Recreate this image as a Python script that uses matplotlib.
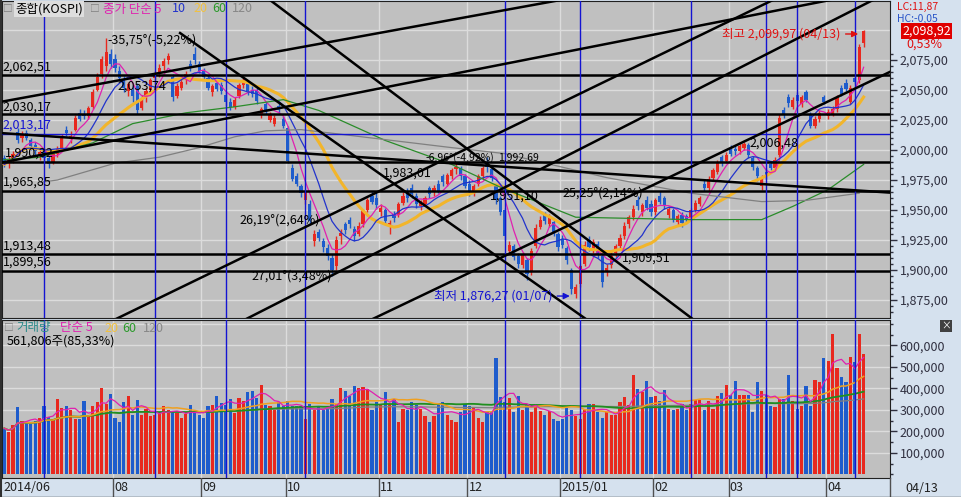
#!/usr/bin/env python3
import numpy as np
import pandas as pd
import matplotlib
matplotlib.use('Agg')
import matplotlib.pyplot as plt
import matplotlib.ticker as tkr
from matplotlib.lines import Line2D

plt.rcParams['font.family'] = ['Noto Sans CJK KR', 'DejaVu Sans']

# KOSPI daily, 2014-06-27 .. 2015-04-13 (195 sessions)
opens = [1993, 1988, 1991, 2015, 2010, 2014, 2008, 2004, 1995, 1998,
         1993, 1989, 1997, 2002, 2017, 2009, 2017, 2031, 2030, 2028,
         2036, 2050, 2063, 2070, 2080, 2076, 2066, 2058, 2049, 2050,
         2053, 2035, 2044, 2050, 2060, 2065, 2070, 2075, 2061, 2045,
         2052, 2060, 2072, 2080, 2072, 2066, 2060, 2048, 2056, 2054,
         2046, 2040, 2036, 2045, 2054, 2055, 2050, 2050, 2029, 2038,
         2025, 2022, 2037, 2026, 2018, 1985, 1978, 1970, 1958, 1955,
         1924, 1932, 1924, 1918, 1910, 1903, 1928, 1938, 1942, 1934,
         1930, 1938, 1950, 1962, 1960, 1948, 1950, 1936, 1947, 1946,
         1956, 1966, 1968, 1962, 1953, 1955, 1968, 1966, 1972, 1978,
         1972, 1978, 1984, 1985, 1978, 1972, 1964, 1972, 1978, 1990,
         1984, 1970, 1960, 1950, 1916, 1920, 1912, 1904, 1908, 1898,
         1920, 1936, 1946, 1938, 1940, 1930, 1926, 1918, 1900, 1880,
         1888, 1905, 1925, 1916, 1922, 1912, 1898, 1904, 1914, 1920,
         1928, 1938, 1944, 1958, 1948, 1958, 1955, 1948, 1962, 1960,
         1946, 1950, 1940, 1946, 1945, 1944, 1950, 1955, 1972, 1968,
         1977, 1982, 1994, 1991, 2002, 2001, 1999, 2002, 2004, 1993,
         1985, 1970, 1982, 1988, 1985, 1996, 2033, 2044, 2036, 2046,
         2038, 2048, 2030, 2020, 2026, 2044, 2028, 2030, 2034, 2052,
         2056, 2040, 2060, 2058, 2089]
highs = [1996, 1995, 1999, 2018, 2016, 2017, 2010, 2007, 2000, 2001,
         1995, 1999, 2003, 2013, 2020, 2016, 2029, 2034, 2033, 2037,
         2051, 2064, 2078, 2093, 2084, 2080, 2070, 2062, 2057, 2054,
         2056, 2046, 2052, 2060, 2066, 2072, 2077, 2081, 2063, 2056,
         2060, 2066, 2075, 2086, 2074, 2068, 2062, 2055, 2058, 2057,
         2048, 2043, 2044, 2056, 2060, 2057, 2053, 2052, 2036, 2040,
         2032, 2029, 2039, 2028, 2020, 1988, 1981, 1972, 1967, 1958,
         1933, 1934, 1927, 1922, 1913, 1928, 1934, 1940, 1944, 1937,
         1940, 1951, 1960, 1966, 1965, 1955, 1952, 1942, 1949, 1957,
         1965, 1968, 1972, 1964, 1958, 1962, 1970, 1971, 1975, 1980,
         1981, 1985, 1990, 1987, 1980, 1975, 1972, 1980, 1987, 1994,
         1986, 1972, 1962, 1952, 1924, 1922, 1914, 1915, 1910, 1918,
         1938, 1945, 1948, 1947, 1942, 1932, 1929, 1920, 1902, 1888,
         1905, 1924, 1928, 1926, 1924, 1914, 1905, 1915, 1922, 1930,
         1940, 1946, 1954, 1962, 1956, 1962, 1958, 1960, 1966, 1962,
         1953, 1952, 1947, 1948, 1947, 1952, 1958, 1962, 1975, 1978,
         1985, 1992, 1996, 1998, 2004, 2004, 2005, 2006.48, 2006, 1995,
         1987, 1979, 1985, 1990, 1994, 2030, 2036, 2047, 2044, 2048,
         2046, 2050, 2032, 2028, 2033, 2046, 2034, 2037, 2046, 2054,
         2059, 2054, 2062, 2088, 2099.97]
lows = [1986, 1985, 1989, 2006, 2007, 2008, 2000, 1996, 1992, 1990,
        1985, 1988, 1994, 2000, 2012, 2006, 2016, 2024, 2026, 2026,
        2034, 2049, 2060, 2066, 2068, 2065, 2058, 2048, 2045, 2040,
        2030, 2033, 2040, 2048, 2055, 2061, 2067, 2072, 2041, 2043,
        2050, 2055, 2066, 2072, 2064, 2058, 2050, 2045, 2049, 2047,
        2037, 2033, 2034, 2043, 2052, 2046, 2044, 2038, 2027, 2030,
        2023, 2020, 2031, 2018, 1989, 1974, 1970, 1961, 1955, 1938,
        1920, 1924, 1915, 1908, 1895, 1900, 1922, 1930, 1935, 1924,
        1928, 1936, 1948, 1955, 1951, 1945, 1938, 1930, 1940, 1944,
        1954, 1957, 1960, 1952, 1950, 1953, 1960, 1962, 1964, 1970,
        1970, 1976, 1980, 1975, 1968, 1962, 1962, 1970, 1976, 1982,
        1974, 1955, 1946, 1925, 1914, 1908, 1902, 1902, 1892, 1896,
        1918, 1934, 1938, 1936, 1928, 1916, 1918, 1905, 1880, 1876.27,
        1886, 1903, 1916, 1914, 1910, 1886, 1895, 1902, 1911, 1918,
        1926, 1935, 1942, 1950, 1945, 1950, 1945, 1946, 1955, 1951,
        1943, 1940, 1937, 1936, 1940, 1942, 1948, 1953, 1966, 1966,
        1975, 1980, 1987, 1989, 1995, 1996, 1997, 2000, 1993, 1983,
        1974, 1967, 1976, 1983, 1983, 1994, 2027, 2036, 2034, 2039,
        2036, 2040, 2018, 2018, 2023, 2038, 2026, 2028, 2032, 2045,
        2049, 2038, 2055, 2056, 2086]
closes = [1988, 1992, 1997, 2008, 2013, 2010, 2003, 1999, 1998, 1993,
          1988, 1997, 2001, 2011, 2014, 2012, 2027, 2026, 2028, 2035,
          2048, 2061, 2076, 2082, 2072, 2068, 2060, 2052, 2055, 2045,
          2033, 2042, 2049, 2058, 2063, 2068, 2074, 2078, 2044, 2053,
          2057, 2063, 2068, 2075, 2066, 2061, 2052, 2053, 2051, 2049,
          2040, 2036, 2042, 2054, 2058, 2049, 2047, 2041, 2034, 2032,
          2030, 2027, 2033, 2020, 1991, 1976, 1972, 1964, 1965, 1941,
          1930, 1927, 1919, 1912, 1900, 1925, 1931, 1933, 1938, 1928,
          1937, 1949, 1958, 1957, 1954, 1952, 1941, 1939, 1943, 1955,
          1962, 1960, 1963, 1955, 1956, 1960, 1963, 1968, 1966, 1973,
          1979, 1983, 1986, 1978, 1970, 1965, 1970, 1978, 1985, 1986,
          1977, 1958, 1948, 1928, 1921, 1911, 1905, 1913, 1897, 1916,
          1935, 1942, 1941, 1944, 1931, 1919, 1921, 1908, 1884, 1886,
          1903, 1921, 1919, 1923, 1913, 1890, 1902, 1912, 1920, 1927,
          1937, 1944, 1951, 1953, 1954, 1952, 1948, 1958, 1957, 1954,
          1951, 1942, 1945, 1939, 1942, 1950, 1956, 1960, 1968, 1976,
          1983, 1990, 1990, 1996, 1997, 1999, 2003, 2005, 1996, 1986,
          1978, 1977, 1979, 1985, 1992, 2027, 2029, 2039, 2042, 2041,
          2044, 2042, 2020, 2026, 2031, 2040, 2032, 2034, 2044, 2047,
          2051, 2052, 2057, 2086, 2098.92]
# volume, thousand shares
volumes_k = [215, 197, 230, 315, 250, 240, 235, 250, 263, 317,
             268, 260, 350, 308, 320, 300, 260, 258, 340, 270,
             320, 337, 400, 330, 375, 265, 245, 337, 365, 278,
             345, 275, 305, 270, 275, 285, 317, 300, 290, 285,
             265, 280, 325, 288, 278, 265, 317, 325, 365, 333,
             325, 350, 288, 357, 340, 385, 390, 357, 418, 325,
             317, 300, 337, 320, 340, 317, 317, 317, 258, 330,
             300, 320, 300, 305, 350, 330, 400, 390, 365, 412,
             400, 408, 396, 300, 337, 330, 385, 330, 350, 245,
             305, 300, 337, 325, 305, 270, 243, 270, 325, 337,
             275, 252, 245, 290, 330, 320, 310, 265, 243, 292,
             290, 540, 362, 336, 357, 292, 367, 300, 330, 290,
             320, 294, 279, 294, 257, 248, 257, 310, 300, 274,
             257, 300, 330, 330, 292, 264, 292, 279, 279, 336,
             362, 324, 463, 398, 382, 435, 362, 367, 341, 391,
             306, 300, 306, 330, 300, 330, 346, 346, 300, 341,
             306, 367, 377, 418, 372, 433, 372, 372, 372, 292,
             428, 388, 372, 320, 315, 350, 350, 463, 341, 305,
             320, 412, 320, 438, 428, 543, 528, 655, 497, 455,
             432, 548, 525, 655, 562]

# 60 / 120 day price averages
ma60_idx = [0, 8, 20, 29, 41, 52, 63, 71, 86, 101, 112, 129, 155, 171, 178, 186, 194]
ma60_val = [1992, 1994, 2006, 2022, 2031, 2036, 2042, 2033, 2008, 1988, 1969, 1944,
            1942, 1942, 1953, 1967, 1988]
ma120_idx = [8, 12, 25, 35, 44, 52, 59, 67, 74, 101, 113, 136, 155, 171, 181, 193]
ma120_val = [1973, 1975, 1989, 1994, 2002, 2011, 2016, 2017, 2014, 2002, 1997, 1977,
             1964, 1957, 1958, 1964]

month_starts = [25, 45, 64, 85, 105, 126, 147, 164, 186]
month_labels = ['08', '09', '10', '11', '12', '2015/01', '02', '03', '04']

hlines = [2062.51, 2030.17, 1990.32, 1965.85, 1913.48, 1899.56]
hline_blue = 2013.17
cycle_days = [9, 34, 50, 68, 113, 130, 155, 172, 179, 192]
trendlines = [((-1, 2040.0), (125.5, 2125.0)),
              ((-1, 1989.2), (186.4, 2125.0)),
              ((22.9, 1855.0), (173.5, 2125.0)),
              ((52.4, 1855.0), (196.1, 2125.0)),
              ((80.8, 1855.0), (201.0, 2067.0)),
              ((39.7, 2097.5), (132.9, 1855.0)),
              ((60.0, 2125.0), (156.9, 1855.0)),
              ((-1, 2014.2), (201.1, 1964.2))]
# (text, day, price, colour, size)
notes = [('-35,75°(-5,22%)', 23.2, 2091.7, 'black', 9),
         ('2,053,74', 25.5, 2053.3, 'black', 9),
         ('2,062,51', -0.3, 2069.2, 'black', 9),
         ('2,030,17', -0.3, 2035.8, 'black', 9),
         ('2,013,17', -0.3, 2020.8, '#1414d2', 9),
         ('1,990,32', 0.2, 1997.5, 'black', 9),
         ('1,965,85', -0.3, 1973.3, 'black', 9),
         ('1,913,48', -0.3, 1920.0, 'black', 9),
         ('1,899,56', -0.3, 1906.7, 'black', 9),
         ('26,19°(2,64%)', 53.0, 1941.7, 'black', 9),
         ('27,01°(3,48%)', 55.9, 1895.0, 'black', 9),
         ('1,983,01', 85.5, 1981.0, 'black', 9),
         ('-6,96°(-4,92%)', 95.0, 1993.5, 'black', 7.5),
         ('1,992,69', 111.4, 1993.5, 'black', 7.5),
         ('1,951,10', 109.7, 1961.7, 'black', 9),
         ('25,25°(2,14%)', 126.1, 1964.2, 'black', 9),
         ('1,909,51', 139.5, 1910.0, 'black', 9),
         ('2,006,48', 168.3, 2005.8, 'black', 9)]

W, H = 961, 497
BG = '#c0c0c0'
PANEL = '#d5e1ee'
GRID = '#dcdcdc'
UP, DOWN = '#e8281e', '#1e5ccc'
VBLUE = '#1414d2'
FS = 9

fig = plt.figure(figsize=(W / 100, H / 100), dpi=100)
fig.patch.set_facecolor(PANEL)


def rect(x0, y0, x1, y1):
    return [x0 / W, 1 - y1 / H, (x1 - x0) / W, (y1 - y0) / H]


def ftext(x, y, s, **kw):
    kw.setdefault('fontsize', FS)
    kw.setdefault('va', 'center')
    return fig.text(x / W, 1 - y / H, s, **kw)


ax = fig.add_axes(rect(2, 1, 890, 318))
axv = fig.add_axes(rect(2, 320, 890, 478))
axd = fig.add_axes(rect(2, 478, 890, 497))

idx = np.arange(len(closes))
o, h, l, c = map(np.array, (opens, highs, lows, closes))
col = np.where(c >= o, UP, DOWN)
xlim = (-0.5, 199.95)

# ---- price panel
ax.set_facecolor(BG)
for p in np.arange(1875, 2101, 25):
    ax.axhline(p, color=GRID, lw=1, zorder=1)
for m in month_starts:
    ax.axvline(m - 0.5, color=GRID, lw=1, zorder=1)

ax.vlines(idx, l, h, colors=col, lw=1, zorder=3)
ax.bar(idx, np.maximum(np.abs(c - o), 0.8), bottom=np.minimum(o, c),
       width=0.72, color=col, linewidth=0, zorder=3)

s = pd.Series(c)
ax.plot(idx, s.rolling(20, min_periods=1).mean(), color='#f2b52a', lw=2.2, zorder=4)
ax.plot(idx, s.rolling(5, min_periods=1).mean(), color='#e020b0', lw=0.9, zorder=4)
ax.plot(idx, s.rolling(10, min_periods=1).mean(), color='#2233cc', lw=0.9, zorder=4)
ax.plot(ma60_idx, ma60_val, color='#2a8c2a', lw=0.9, zorder=4)
ax.plot(ma120_idx, ma120_val, color='#808080', lw=0.9, zorder=4)

for p in hlines:
    ax.axhline(p, color='black', lw=1.8, zorder=5)
ax.axhline(hline_blue, color=VBLUE, lw=1, zorder=5)
for d in cycle_days:
    ax.axvline(d, color=VBLUE, lw=1, zorder=5)
for (x0, y0), (x1, y1) in trendlines:
    ax.plot([x0, x1], [y0, y1], color='black', lw=1.8, zorder=5)

for txt, x, y, cc, fs in notes:
    ax.text(x, y, txt, fontsize=fs, color=cc, va='center', ha='left', zorder=6)

ax.text(188.8, 2096.7, '최고 2,099,97 (04/13)', color='#e01010', fontsize=FS,
        va='center', ha='right', zorder=6)
ax.annotate('', xy=(193.4, 2096.7), xytext=(189.3, 2096.7), zorder=6,
            arrowprops=dict(arrowstyle='-|>', color='#e01010', lw=1, mutation_scale=9))
ax.text(123.7, 1878.3, '최저 1,876,27 (01/07)', color=VBLUE, fontsize=FS,
        va='center', ha='right', zorder=6)
ax.annotate('', xy=(128.3, 1878.3), xytext=(124.2, 1878.3), zorder=6,
            arrowprops=dict(arrowstyle='-|>', color=VBLUE, lw=1, mutation_scale=9))

ax.set_xlim(*xlim)
ax.set_ylim(1860, 2124.2)
ax.yaxis.tick_right()
ax.set_yticks(np.arange(1875, 2076, 25))
ax.yaxis.set_minor_locator(tkr.FixedLocator(np.arange(1865, 2081, 5)))
ax.yaxis.set_major_formatter(tkr.FuncFormatter(lambda v, pos: f'{v:,.2f}'.replace('.', ',')))
ax.tick_params(axis='y', which='major', length=5, width=1, colors='#303040',
               labelsize=FS, pad=2)
ax.tick_params(axis='y', which='minor', length=2, width=1, colors='#303040')
ax.tick_params(axis='x', bottom=False, labelbottom=False)
for sp in ax.spines.values():
    sp.set_color('#202020')

# ---- volume panel
vol = np.array(volumes_k)
axv.set_facecolor(BG)
for v in np.arange(100, 701, 100):
    axv.axhline(v, color=GRID, lw=1, zorder=1)
for m in month_starts:
    axv.axvline(m - 0.5, color=GRID, lw=1, zorder=1)
axv.bar(idx, vol, width=0.72, color=col, linewidth=0, zorder=3)
vs = pd.Series(vol)
axv.plot(idx, vs.rolling(120, min_periods=1).mean(), color='#808080', lw=0.9, zorder=4)
axv.plot(idx, vs.rolling(60, min_periods=1).mean(), color='#1f8f1f', lw=1.3, zorder=4)
axv.plot(idx, vs.rolling(20, min_periods=1).mean(), color='#f0a020', lw=1.1, zorder=4)
axv.plot(idx, vs.rolling(5, min_periods=1).mean(), color='#e020b0', lw=0.9, zorder=4)
for d in cycle_days:
    axv.axvline(d, color=VBLUE, lw=1, zorder=5)
axv.set_xlim(*xlim)
axv.set_ylim(-16.3, 718.6)
axv.yaxis.tick_right()
axv.set_yticks(np.arange(100, 601, 100))
axv.yaxis.set_minor_locator(tkr.FixedLocator(np.arange(0, 701, 50)))
axv.yaxis.set_major_formatter(tkr.FuncFormatter(lambda v, pos: f'{v * 1000:,.0f}'))
axv.tick_params(axis='y', which='major', length=5, width=1, colors='#303040',
                labelsize=FS, pad=2)
axv.tick_params(axis='y', which='minor', length=2, width=1, colors='#303040')
axv.tick_params(axis='x', bottom=False, labelbottom=False)
for sp in axv.spines.values():
    sp.set_color('#202020')

# ---- date bar
axd.set_facecolor(PANEL)
axd.set_xlim(*xlim)
axd.set_ylim(0, 1)
axd.axis('off')
axd.text(-0.2, 0.5, '2014/06', fontsize=FS, va='center', ha='left', color='#202020')
for m, lab in zip(month_starts, month_labels):
    axd.axvline(m - 0.5, color='#505050', lw=1)
    axd.text(m - 0.2, 0.5, lab, fontsize=FS, va='center', ha='left', color='#202020')
fig.add_artist(Line2D([890 / W, 890 / W], [0, 19 / H], color='#505050', lw=1))
fig.add_artist(Line2D([0, 1], [0.5 / H, 0.5 / H], color='#303030', lw=1))
fig.add_artist(Line2D([0.5 / W, 0.5 / W], [0, 1], color='#303030', lw=1.5))
ftext(905, 488, '04/13', color='#202020')

# ---- legends
ftext(3, 9, '□', color='#808080', fontsize=7)
ftext(15, 9, '종합(KOSPI)', color='black',
      bbox=dict(boxstyle='square,pad=0.1', fc='#dedede', ec='none'))
ftext(90, 9, '□', color='#808080', fontsize=7)
ftext(103, 9, '종가 단순 5', color='#e020b0')
ftext(172, 9, '10', color='#2233cc')
ftext(193, 9, '20', color='#f0c040')
ftext(212, 9, '60', color='#2a9a2a')
ftext(232, 9, '120', color='#888888')

ftext(4, 328, '□', color='#808080', fontsize=7)
ftext(16, 328, '거래량', color='#2a8a8a')
ftext(60, 328, '단순 5', color='#e020b0')
ftext(104, 328, '20', color='#f0c040')
ftext(122, 328, '60', color='#2a9a2a')
ftext(143, 328, '120', color='#888888')
ftext(7, 341, '561,806주(85,33%)', color='black')

# ---- right side readouts
ftext(897, 7, 'LC:11,87', color='#e01010', fontsize=7.5)
ftext(897, 19, 'HC:-0,05', color='#2a55c8', fontsize=7.5)
ftext(902, 31, '2,098,92', color='white',
      bbox=dict(boxstyle='square,pad=0.12', fc='#e00000', ec='none'))
ftext(906, 44, '0,53%', color='#e01010')
ftext(946, 326, '×', color='white', fontsize=7, ha='center',
      bbox=dict(boxstyle='square,pad=0.15', fc='#404040', ec='none'))

fig.savefig('out.png', dpi=100, facecolor=fig.get_facecolor())
